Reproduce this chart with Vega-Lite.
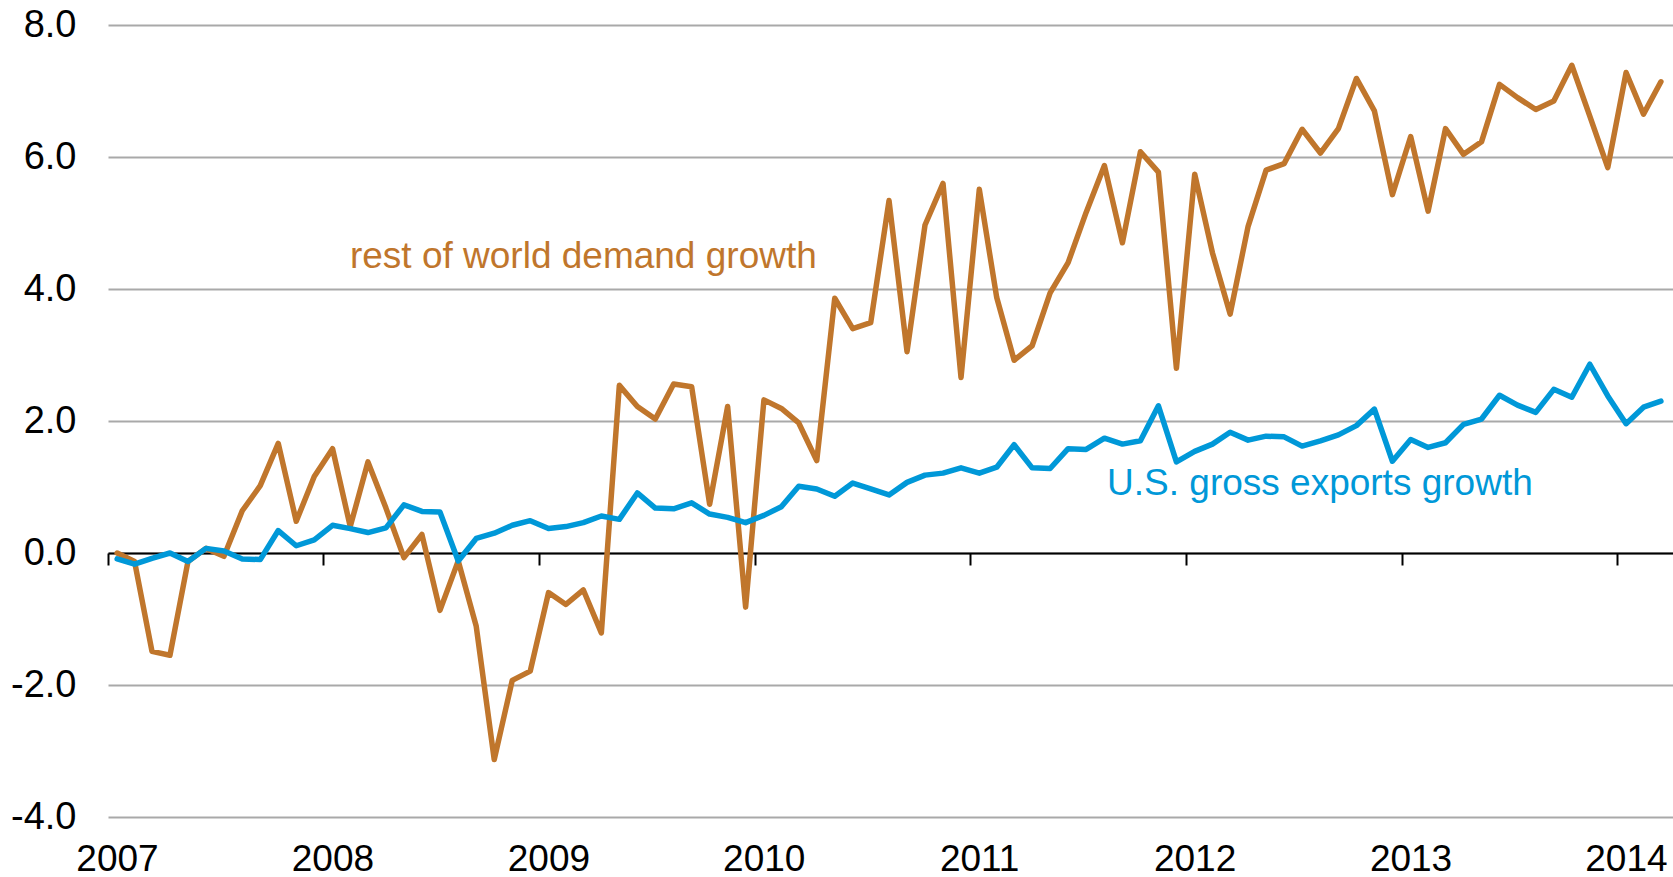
{
  "$schema": "https://vega.github.io/schema/vega-lite/v6.json",
  "width": 1565,
  "height": 792,
  "autosize": "none",
  "padding": {"left": 108, "top": 25, "right": 0, "bottom": 60},
  "background": "white",
  "config": {"view": {"stroke": null}, "font": "Liberation Sans"},
  "data": {"values": [
    {"date": "2007-01-01", "world": 0.00, "us": -0.09},
    {"date": "2007-02-01", "world": -0.13, "us": -0.17},
    {"date": "2007-03-01", "world": -1.49, "us": -0.08},
    {"date": "2007-04-01", "world": -1.55, "us": 0.00},
    {"date": "2007-05-01", "world": -0.13, "us": -0.13},
    {"date": "2007-06-01", "world": 0.07, "us": 0.07},
    {"date": "2007-07-01", "world": -0.05, "us": 0.03},
    {"date": "2007-08-01", "world": 0.64, "us": -0.09},
    {"date": "2007-09-01", "world": 1.02, "us": -0.10},
    {"date": "2007-10-01", "world": 1.66, "us": 0.34},
    {"date": "2007-11-01", "world": 0.48, "us": 0.11},
    {"date": "2007-12-01", "world": 1.16, "us": 0.20},
    {"date": "2008-01-01", "world": 1.58, "us": 0.42},
    {"date": "2008-02-01", "world": 0.40, "us": 0.37},
    {"date": "2008-03-01", "world": 1.38, "us": 0.31},
    {"date": "2008-04-01", "world": 0.68, "us": 0.38},
    {"date": "2008-05-01", "world": -0.07, "us": 0.73},
    {"date": "2008-06-01", "world": 0.28, "us": 0.63},
    {"date": "2008-07-01", "world": -0.87, "us": 0.62},
    {"date": "2008-08-01", "world": -0.12, "us": -0.12},
    {"date": "2008-09-01", "world": -1.11, "us": 0.22},
    {"date": "2008-10-01", "world": -3.13, "us": 0.30},
    {"date": "2008-11-01", "world": -1.93, "us": 0.42},
    {"date": "2008-12-01", "world": -1.79, "us": 0.49},
    {"date": "2009-01-01", "world": -0.60, "us": 0.37},
    {"date": "2009-02-01", "world": -0.78, "us": 0.40},
    {"date": "2009-03-01", "world": -0.56, "us": 0.46},
    {"date": "2009-04-01", "world": -1.21, "us": 0.56},
    {"date": "2009-05-01", "world": 2.54, "us": 0.51},
    {"date": "2009-06-01", "world": 2.22, "us": 0.91},
    {"date": "2009-07-01", "world": 2.03, "us": 0.68},
    {"date": "2009-08-01", "world": 2.56, "us": 0.67},
    {"date": "2009-09-01", "world": 2.52, "us": 0.76},
    {"date": "2009-10-01", "world": 0.74, "us": 0.59},
    {"date": "2009-11-01", "world": 2.22, "us": 0.54},
    {"date": "2009-12-01", "world": -0.82, "us": 0.46},
    {"date": "2010-01-01", "world": 2.32, "us": 0.57},
    {"date": "2010-02-01", "world": 2.19, "us": 0.70},
    {"date": "2010-03-01", "world": 1.97, "us": 1.01},
    {"date": "2010-04-01", "world": 1.40, "us": 0.97},
    {"date": "2010-05-01", "world": 3.86, "us": 0.86},
    {"date": "2010-06-01", "world": 3.40, "us": 1.06},
    {"date": "2010-07-01", "world": 3.49, "us": 0.97},
    {"date": "2010-08-01", "world": 5.34, "us": 0.88},
    {"date": "2010-09-01", "world": 3.05, "us": 1.07},
    {"date": "2010-10-01", "world": 4.97, "us": 1.18},
    {"date": "2010-11-01", "world": 5.60, "us": 1.21},
    {"date": "2010-12-01", "world": 2.66, "us": 1.29},
    {"date": "2011-01-01", "world": 5.51, "us": 1.21},
    {"date": "2011-02-01", "world": 3.87, "us": 1.30},
    {"date": "2011-03-01", "world": 2.92, "us": 1.64},
    {"date": "2011-04-01", "world": 3.14, "us": 1.29},
    {"date": "2011-05-01", "world": 3.94, "us": 1.28},
    {"date": "2011-06-01", "world": 4.40, "us": 1.58},
    {"date": "2011-07-01", "world": 5.16, "us": 1.57},
    {"date": "2011-08-01", "world": 5.87, "us": 1.74},
    {"date": "2011-09-01", "world": 4.70, "us": 1.65},
    {"date": "2011-10-01", "world": 6.08, "us": 1.70},
    {"date": "2011-11-01", "world": 5.77, "us": 2.23},
    {"date": "2011-12-01", "world": 2.80, "us": 1.38},
    {"date": "2012-01-01", "world": 5.74, "us": 1.54},
    {"date": "2012-02-01", "world": 4.55, "us": 1.65},
    {"date": "2012-03-01", "world": 3.62, "us": 1.83},
    {"date": "2012-04-01", "world": 4.95, "us": 1.71},
    {"date": "2012-05-01", "world": 5.80, "us": 1.77},
    {"date": "2012-06-01", "world": 5.90, "us": 1.76},
    {"date": "2012-07-01", "world": 6.42, "us": 1.62},
    {"date": "2012-08-01", "world": 6.06, "us": 1.70},
    {"date": "2012-09-01", "world": 6.43, "us": 1.79},
    {"date": "2012-10-01", "world": 7.19, "us": 1.93},
    {"date": "2012-11-01", "world": 6.70, "us": 2.18},
    {"date": "2012-12-01", "world": 5.43, "us": 1.39},
    {"date": "2013-01-01", "world": 6.31, "us": 1.72},
    {"date": "2013-02-01", "world": 5.18, "us": 1.60},
    {"date": "2013-03-01", "world": 6.43, "us": 1.67},
    {"date": "2013-04-01", "world": 6.04, "us": 1.95},
    {"date": "2013-05-01", "world": 6.23, "us": 2.03},
    {"date": "2013-06-01", "world": 7.10, "us": 2.39},
    {"date": "2013-07-01", "world": 6.90, "us": 2.24},
    {"date": "2013-08-01", "world": 6.72, "us": 2.13},
    {"date": "2013-09-01", "world": 6.85, "us": 2.48},
    {"date": "2013-10-01", "world": 7.39, "us": 2.36},
    {"date": "2013-11-01", "world": 6.62, "us": 2.86},
    {"date": "2013-12-01", "world": 5.84, "us": 2.38},
    {"date": "2014-01-01", "world": 7.28, "us": 1.96},
    {"date": "2014-02-01", "world": 6.65, "us": 2.21},
    {"date": "2014-03-01", "world": 7.14, "us": 2.30}
  ]},
  "layer": [
    {
      "mark": {"type": "line", "color": "#C0762C", "strokeWidth": 5.5, "strokeJoin": "round", "strokeCap": "round"},
      "encoding": {
        "x": {
          "field": "date", "type": "temporal", "timeUnit": "utcyearmonth", "bandPosition": 0.5,
          "scale": {"type": "utc", "domain": [{"year": 2007, "month": 1, "date": 1, "utc": true}, {"year": 2014, "month": 4, "date": 6, "utc": true}]},
          "axis": {
            "title": null,
            "values": [
              {"year": 2007, "month": 1, "date": 1, "utc": true},
              {"year": 2008, "month": 1, "date": 1, "utc": true},
              {"year": 2009, "month": 1, "date": 1, "utc": true},
              {"year": 2010, "month": 1, "date": 1, "utc": true},
              {"year": 2011, "month": 1, "date": 1, "utc": true},
              {"year": 2012, "month": 1, "date": 1, "utc": true},
              {"year": 2013, "month": 1, "date": 1, "utc": true},
              {"year": 2014, "month": 1, "date": 1, "utc": true}
            ],
            "labelExpr": "utcFormat(datum.value, '%Y')",
            "offset": -264,
            "domain": true, "domainColor": "#000000", "domainWidth": 2,
            "ticks": true, "tickColor": "#000000", "tickWidth": 2, "tickSize": 12,
            "grid": false,
            "labelPadding": 276, "labelOffset": 9,
            "labelFontSize": 37, "labelColor": "#000000", "labelFont": "Liberation Sans",
            "labelFlush": false, "labelOverlap": false
          }
        },
        "y": {
          "field": "world", "type": "quantitative",
          "scale": {"domain": [-4, 8], "nice": false, "zero": false},
          "axis": {
            "title": null,
            "values": [-4, -2, 0, 2, 4, 6, 8],
            "labelExpr": "(datum.value < 0 ? '-' : '') + format(abs(datum.value), '.1f')",
            "grid": true, "gridColor": "#A9A9A9", "gridWidth": 2,
            "domain": false, "ticks": false, "tickSize": 0,
            "labelPadding": 32, "labelFontSize": 38, "labelColor": "#000000", "labelFont": "Liberation Sans"
          }
        }
      }
    },
    {
      "mark": {"type": "line", "color": "#0098D8", "strokeWidth": 5.5, "strokeJoin": "round", "strokeCap": "round"},
      "encoding": {
        "x": {"field": "date", "type": "temporal", "timeUnit": "utcyearmonth", "bandPosition": 0.5, "axis": {"title": null}},
        "y": {"field": "us", "type": "quantitative", "axis": {"title": null}}
      }
    },
    {
      "data": {"values": [
        {"label": "rest of world demand growth", "date": "2008-02-15", "v": 4.32, "series": "world"},
        {"label": "U.S. gross exports growth", "date": "2011-08-21", "v": 0.88, "series": "us"}
      ]},
      "mark": {"type": "text", "align": "left", "baseline": "alphabetic", "fontSize": 37, "font": "Liberation Sans"},
      "encoding": {
        "x": {"field": "date", "type": "temporal", "axis": {"title": null}},
        "y": {"field": "v", "type": "quantitative", "axis": {"title": null}},
        "text": {"field": "label"},
        "color": {"field": "series", "type": "nominal", "scale": {"domain": ["world", "us"], "range": ["#C0762C", "#0098D8"]}, "legend": null}
      }
    }
  ]
}
